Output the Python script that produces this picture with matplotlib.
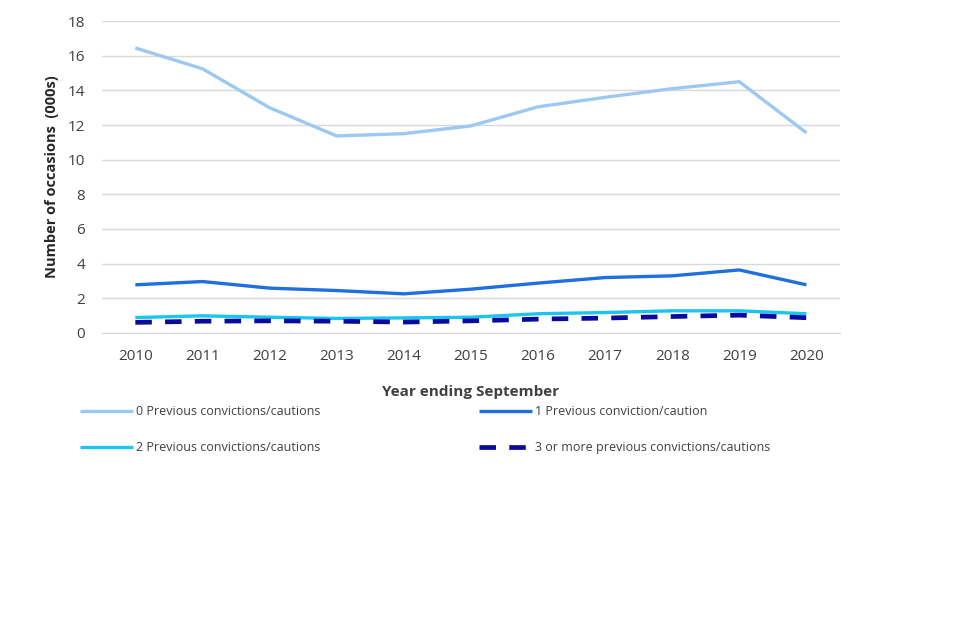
import matplotlib
matplotlib.use("Agg")
import matplotlib.pyplot as plt

years = ["2010", "2011", "2012", "2013", "2014", "2015", "2016", "2017", "2018", "2019", "2020"]

prev0 = [16.45, 15.25, 13.0, 11.37, 11.5, 11.95, 13.05, 13.6, 14.1, 14.5, 11.55]
prev1 = [2.77, 2.96, 2.58, 2.44, 2.25, 2.52, 2.87, 3.19, 3.29, 3.63, 2.77]
prev2 = [0.88, 0.98, 0.9, 0.83, 0.86, 0.9, 1.1, 1.17, 1.27, 1.27, 1.1]
prev3 = [0.6, 0.67, 0.69, 0.67, 0.62, 0.69, 0.79, 0.85, 0.94, 1.02, 0.87]

labels = ["0 Previous convictions/cautions", "1 Previous conviction/caution",
          "2 Previous convictions/cautions", "3 or more previous convictions/cautions"]

plt.rcParams['font.family'] = ['Open Sans', 'DejaVu Sans']

fig = plt.figure(figsize=(9.6, 6.4), dpi=100)
ax = fig.add_axes([0.106, 0.48, 0.769, 0.487])

x = list(range(len(years)))
l0, = ax.plot(x, prev0, color='#9DC8F2', lw=2.4, solid_capstyle='butt')
l1, = ax.plot(x, prev1, color='#1F6FDF', lw=2.4, solid_capstyle='butt')
l2, = ax.plot(x, prev2, color='#1CC4F0', lw=2.4, solid_capstyle='butt')
l3, = ax.plot(x, prev3, color='#0A0AA0', lw=3.4, linestyle=(0, (3.5, 2.8)))

ax.set_xlim(-0.5, len(years) - 0.5)
ax.set_ylim(0, 18)
ax.set_yticks(range(0, 19, 2))
ax.set_xticks(x)
ax.set_xticklabels(years)
ax.yaxis.grid(True, color='#D9D9D9', lw=1)
ax.set_axisbelow(True)
for s in ['top', 'right', 'left']:
    ax.spines[s].set_visible(False)
ax.spines['bottom'].set_color('#D9D9D9')
ax.tick_params(length=0, labelsize=11, labelcolor='#404040')
ax.tick_params(axis='x', pad=12)
ax.tick_params(axis='y', pad=12)

ax.set_ylabel('Number of occasions  (000s)', fontsize=10.5, fontweight='bold', color='#262626')
ax.yaxis.set_label_coords(-0.058, 0.5)
ax.set_xlabel('Year ending September', fontsize=11, fontweight='bold', color='#404040', labelpad=15)

fig.legend([l0, l2, l1, l3], [labels[0], labels[2], labels[1], labels[3]],
           ncol=2, loc='upper left', bbox_to_anchor=(0.072, 0.384),
           frameon=False, fontsize=9, handlelength=4.2, handletextpad=0.25,
           columnspacing=12.7, labelspacing=1.8, labelcolor='#404040')

fig.savefig('out.png', dpi=100)
